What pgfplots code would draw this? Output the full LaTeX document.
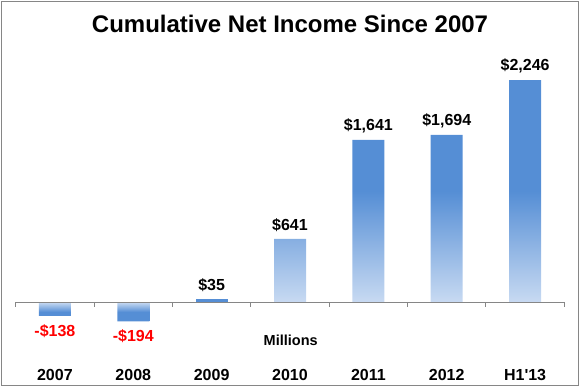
\documentclass[border=0pt]{standalone}
\usepackage{pgfplots}
\pgfplotsset{compat=1.18}
\usepackage{fontspec}
\setmainfont{Liberation Sans}
\definecolor{barblue}{HTML}{558ED5}
\definecolor{barlight}{HTML}{C8DAF2}
\definecolor{axgray}{HTML}{868686}
\pgfdeclareverticalshading{barshade}{100bp}{color(0bp)=(barlight); color(25bp)=(barlight); color(50bp)=(barblue); color(100bp)=(barblue)}
\begin{document}
\begin{tikzpicture}[x=1pt,y=1pt]
\begin{axis}[
  at={(0,0)}, anchor=south west,
  scale only axis, width=548.6pt, height=305pt,
  xmin=-0.5, xmax=6.5, ymin=-533, ymax=2551,
  hide y axis, axis line style={draw=none},
  xtick={0,...,6},
  xticklabels={2007,2008,2009,2010,2011,2012,H1\textquotesingle 13},
  xtick style={draw=none},
  xticklabel style={anchor=center, yshift=-15.7pt, font=\fontsize{16}{16}\selectfont\bfseries},
  ybar, bar width=32pt,
  clip=false,
  point meta=explicit,
  /pgf/number format/fixed,
  /pgf/number format/precision=0,
  /pgf/number format/1000 sep={,},
  /pgf/number format/assume math mode=true,
]
\addplot[draw=none, fill=barblue, bar shift=0pt,
  nodes near coords={\$\pgfmathprintnumber{\pgfplotspointmeta}},
  every node near coord/.append style={anchor=center, yshift=14pt, text=black, font=\fontsize{16}{16}\selectfont\bfseries}]
  coordinates {(2,35) [35]};
\addplot[draw=none, shading=barshade, bar shift=0pt,
  nodes near coords={\$\pgfmathprintnumber{\pgfplotspointmeta}},
  every node near coord/.append style={anchor=center, yshift=14pt, text=black, font=\fontsize{16}{16}\selectfont\bfseries}]
  coordinates {(3,641) [641] (4,1641) [1641] (5,1694) [1694] (6,2246) [2246]};
\addplot[draw=none, shading=barshade, shading angle=180, bar shift=0pt,
  nodes near coords={-\$\pgfmathprintnumber{\pgfplotspointmeta}},
  every node near coord/.append style={anchor=center, yshift=-15pt, text=red, font=\fontsize{16}{16}\selectfont\bfseries}]
  coordinates {(0,-138) [138] (1,-194) [194]};
\draw[axgray, line width=1pt] (axis cs:-0.5,0) -- (axis cs:6.5,0);
\pgfplotsinvokeforeach{-0.5,0.5,1.5,2.5,3.5,4.5,5.5,6.5}{
  \draw[axgray, line width=1pt] (axis cs:#1,0) -- ++(0pt,-5pt);
}
\end{axis}
\draw[axgray, line width=1.5pt] (-14.4,-30.7) rectangle (562.6,353.7);
\node[font=\fontsize{24}{24}\selectfont\bfseries] at (274.3,331) {Cumulative Net Income Since 2007};
\node[font=\fontsize{14.5}{14.5}\selectfont\bfseries] at (275,15) {Millions};
\pgfresetboundingbox
\path[use as bounding box] (-15.7,-33) rectangle (564.3,355);
\end{tikzpicture}
\end{document}
